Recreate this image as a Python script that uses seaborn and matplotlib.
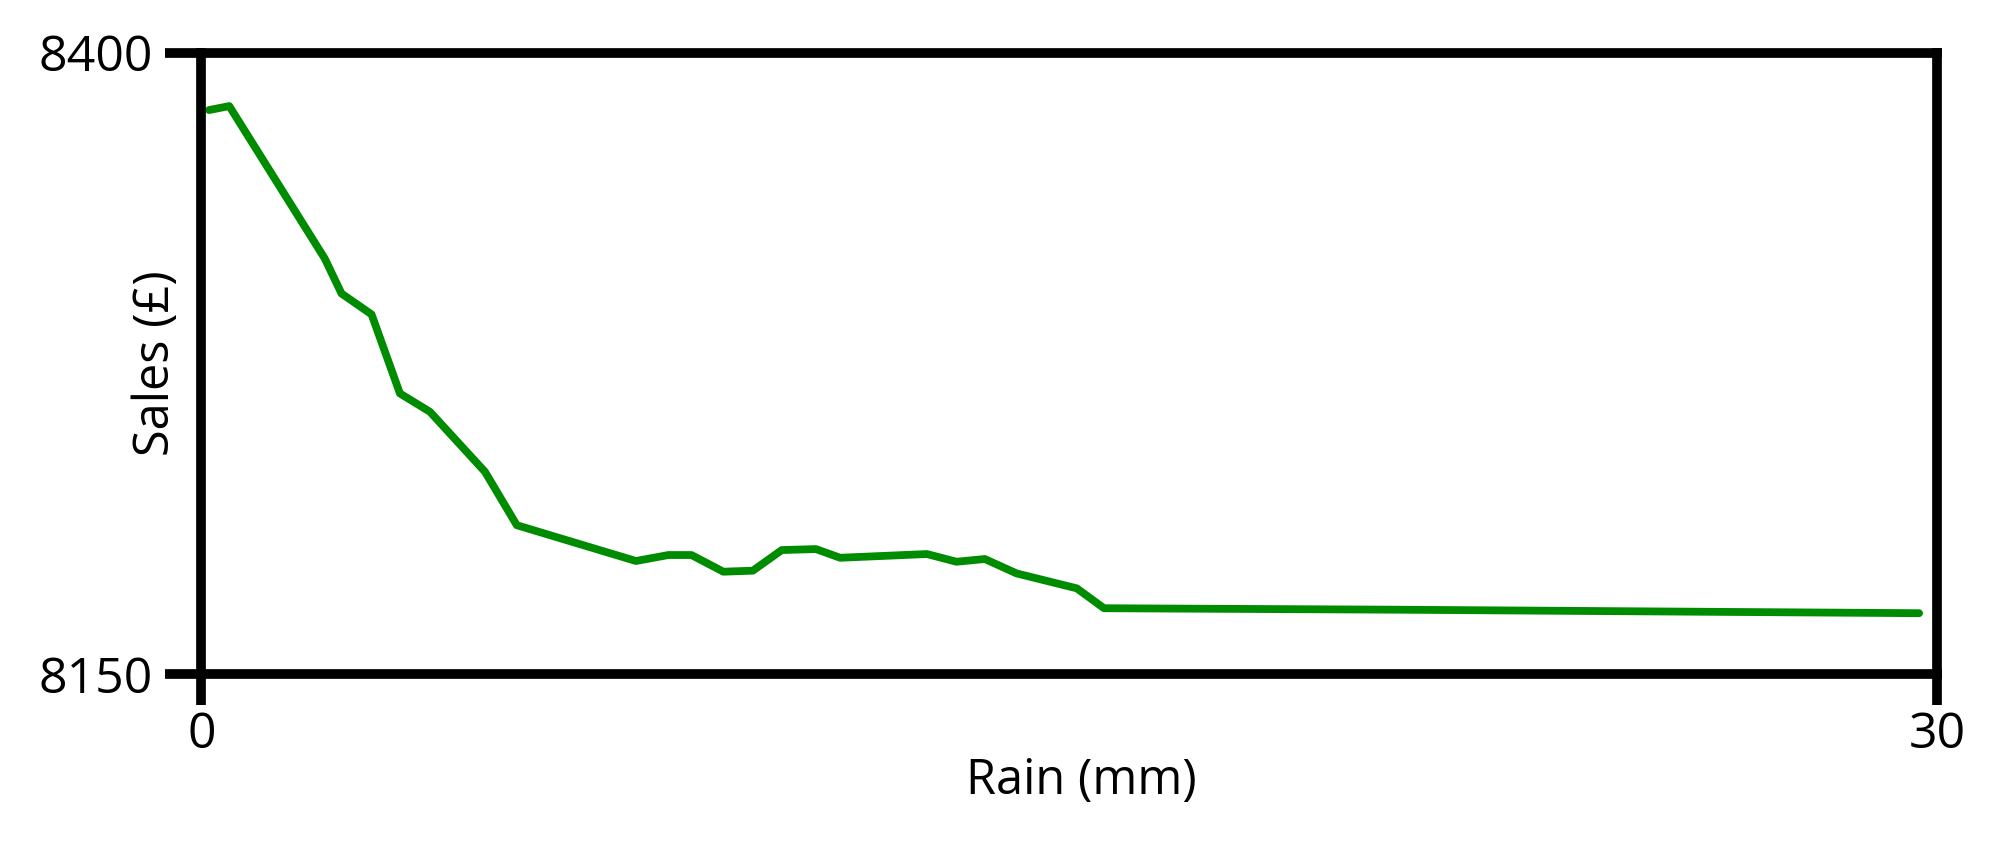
import matplotlib
matplotlib.use("Agg")
import matplotlib.pyplot as plt
import seaborn as sns
import pandas as pd

# Data
rain_mm = [0.13, 0.48, 2.13, 2.42, 2.94, 3.43, 3.95, 4.90, 5.45, 7.51,
           8.07, 8.47, 9.02, 9.53, 10.03, 10.62, 11.04, 12.54, 13.05, 13.54,
           14.09, 15.13, 15.60, 20.72, 29.69]
sales = [8376.9, 8378.5, 8317.2, 8303.1, 8294.7, 8262.9, 8255.5, 8231.4, 8209.9, 8195.5,
         8197.9, 8197.9, 8191.2, 8191.6, 8199.9, 8200.3, 8196.8, 8198.3, 8195.2, 8196.3,
         8190.5, 8184.5, 8176.5, 8175.9, 8174.5]
x_ticks = [0, 30]
y_ticks = [8150, 8400]
x_label = "Rain (mm)"
y_label = "Sales (£)"

df = pd.DataFrame({"rain": rain_mm, "sales": sales})

sns.set_style("white")
plt.rcParams["font.family"] = ["Open Sans", "DejaVu Sans"]

fig = plt.figure(figsize=(19.99, 8.49), dpi=100)
ax = fig.add_axes([0.1008, 0.206, 0.8682, 0.732])

sns.lineplot(data=df, x="rain", y="sales", color="#008C00", linewidth=5.6,
             ax=ax, sort=False, estimator=None)

ax.set_xlim(0, 30)
ax.set_ylim(8150, 8400)
ax.set_xticks(x_ticks)
ax.set_yticks(y_ticks)
ax.set_xticklabels([str(v) for v in x_ticks])
ax.set_yticklabels([str(v) for v in y_ticks])

for s in ax.spines.values():
    s.set_visible(True)
    s.set_color("black")
    s.set_linewidth(7)

ax.tick_params(axis="both", which="major", direction="out", width=7,
               color="black", labelsize=36, labelcolor="black")
ax.tick_params(axis="y", length=26, pad=9)
ax.tick_params(axis="x", length=22, pad=4)
ax.xaxis.set_ticks_position("bottom")
ax.yaxis.set_ticks_position("left")

ax.set_xlabel(x_label, fontsize=35, color="black")
ax.set_ylabel(y_label, fontsize=35, color="black")
ax.xaxis.set_label_coords(0.507, -0.132)
ax.yaxis.set_label_coords(-0.012, 0.5)

fig.savefig("out.png", dpi=100, facecolor="white")
